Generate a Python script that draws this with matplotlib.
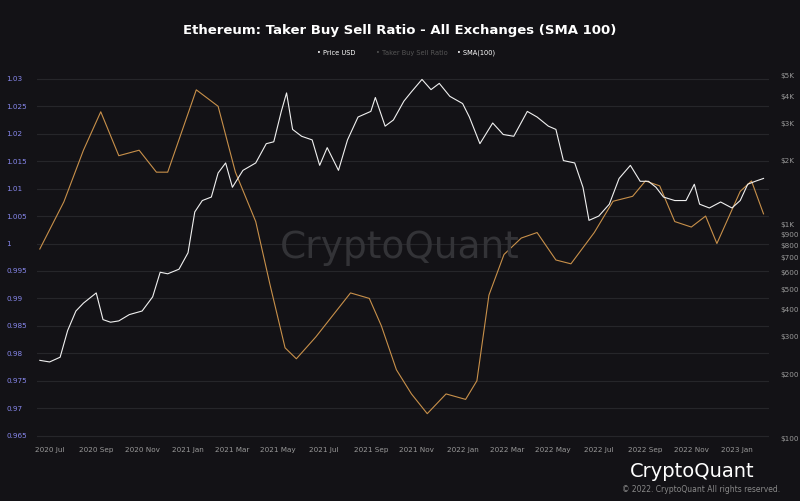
import matplotlib
matplotlib.use("Agg")
import matplotlib.pyplot as plt
import matplotlib.dates as mdates
import pandas as pd

price_dates = ["2020-06-18","2020-07-01","2020-07-15","2020-07-25","2020-08-05","2020-08-15","2020-09-01","2020-09-10","2020-09-20","2020-10-01","2020-10-15","2020-11-01","2020-11-15","2020-11-25","2020-12-05","2020-12-20","2021-01-01","2021-01-10","2021-01-20","2021-02-01","2021-02-10","2021-02-20","2021-03-01","2021-03-15","2021-04-01","2021-04-15","2021-04-25","2021-05-05","2021-05-12","2021-05-20","2021-06-01","2021-06-15","2021-06-25","2021-07-05","2021-07-20","2021-08-01","2021-08-15","2021-09-01","2021-09-07","2021-09-20","2021-10-01","2021-10-15","2021-10-25","2021-11-08","2021-11-20","2021-12-01","2021-12-15","2022-01-01","2022-01-10","2022-01-24","2022-02-10","2022-02-24","2022-03-10","2022-03-28","2022-04-10","2022-04-25","2022-05-05","2022-05-15","2022-05-30","2022-06-10","2022-06-18","2022-07-01","2022-07-15","2022-07-28","2022-08-12","2022-08-25","2022-09-05","2022-09-15","2022-09-25","2022-10-10","2022-10-25","2022-11-05","2022-11-12","2022-11-25","2022-12-10","2022-12-25","2023-01-05","2023-01-15","2023-01-25","2023-02-05"]
price_usd = [232,228,240,320,395,430,480,360,350,355,380,395,460,600,590,620,740,1150,1300,1350,1750,1950,1500,1800,1950,2400,2450,3400,4150,2800,2600,2500,1900,2300,1800,2500,3200,3400,3950,2900,3100,3800,4200,4800,4300,4600,4000,3700,3200,2400,3000,2650,2600,3400,3200,2900,2800,2000,1950,1500,1050,1100,1250,1650,1900,1600,1600,1500,1350,1300,1300,1550,1250,1200,1280,1200,1300,1550,1600,1650]

sma_dates = ["2020-06-18","2020-07-20","2020-08-15","2020-09-07","2020-10-01","2020-10-28","2020-11-20","2020-12-05","2021-01-12","2021-02-10","2021-03-05","2021-04-01","2021-04-20","2021-05-10","2021-05-25","2021-06-20","2021-08-05","2021-08-30","2021-09-15","2021-10-05","2021-10-25","2021-11-15","2021-12-10","2022-01-05","2022-01-20","2022-02-05","2022-02-25","2022-03-20","2022-04-10","2022-05-05","2022-05-25","2022-06-25","2022-07-20","2022-08-15","2022-09-01","2022-09-20","2022-10-10","2022-11-01","2022-11-20","2022-12-05","2023-01-05","2023-01-20","2023-02-05"]
sma_ratio = [0.999,1.0076,1.017,1.024,1.016,1.017,1.013,1.013,1.028,1.025,1.013,1.004,0.9925,0.981,0.979,0.983,0.991,0.990,0.985,0.977,0.9726,0.969,0.9726,0.9716,0.975,0.9906,0.998,1.001,1.002,0.997,0.9963,1.002,1.0077,1.0086,1.0114,1.0105,1.004,1.003,1.005,1.000,1.0095,1.0114,1.0054]

left_ticks = [0.965,0.97,0.975,0.98,0.985,0.99,0.995,1,1.005,1.01,1.015,1.02,1.025,1.03]
right_ticks = [100,200,300,400,500,600,700,800,900,1000,2000,3000,4000,5000]
right_labels = ["$100","$200","$300","$400","$500","$600","$700","$800","$900","$1K","$2K","$3K","$4K","$5K"]
x_ticks = ["2020-07-01","2020-09-01","2020-11-01","2021-01-01","2021-03-01","2021-05-01","2021-07-01","2021-09-01","2021-11-01","2022-01-01","2022-03-01","2022-05-01","2022-07-01","2022-09-01","2022-11-01","2023-01-01"]

bg = "#131216"
fig = plt.figure(figsize=(8, 5.01), dpi=100, facecolor=bg)
ax = fig.add_axes([0.046, 0.125, 0.915, 0.745])
ax.set_facecolor(bg)
ax2 = ax.twinx()

sd = pd.to_datetime(sma_dates)
pdt = pd.to_datetime(price_dates)
ax.plot(sd, sma_ratio, color="#c8904a", lw=0.8)
ax2.plot(pdt, price_usd, color="#f0f0f0", lw=0.8)

ax.set_ylim(0.9645, 1.0325)
ax.set_yticks(left_ticks)
ax.set_yticklabels([("%g" % t) for t in left_ticks])
ax2.set_yscale("log")
ax2.set_ylim(100, 5600)
ax2.set_yticks(right_ticks)
ax2.set_yticklabels(right_labels)
ax2.minorticks_off()
ax.set_xlim(pd.Timestamp("2020-06-14"), pd.Timestamp("2023-02-12"))
ax.set_xticks(pd.to_datetime(x_ticks))
ax.xaxis.set_major_formatter(mdates.DateFormatter("%Y %b"))
ax.grid(axis="y", color="#26262a", lw=0.8)
for a in (ax, ax2):
    for s in a.spines.values():
        s.set_visible(False)
    a.tick_params(length=0, labelsize=5.2)
ax.tick_params(axis="y", colors="#8888ee", pad=-2)
for l in ax.get_yticklabels():
    l.set_horizontalalignment("left"); l.set_x(-0.045)
ax.tick_params(axis="x", colors="#999999", pad=6)
ax2.tick_params(axis="y", colors="#999999", pad=8)

fig.text(0.5, 0.94, "Ethereum: Taker Buy Sell Ratio - All Exchanges (SMA 100)", ha="center", va="center", color="white", fontsize=9.5, fontweight="bold")
fig.text(0.42, 0.895, "• Price USD", ha="center", va="center", color="white", fontsize=4.8)
fig.text(0.515, 0.895, "• Taker Buy Sell Ratio", ha="center", va="center", color="#555555", fontsize=4.8)
fig.text(0.595, 0.895, "• SMA(100)", ha="center", va="center", color="white", fontsize=4.8)
fig.text(0.5, 0.505, "CryptoQuant", ha="center", va="center", color="#333337", fontsize=27)
fig.text(0.865, 0.058, "CryptoQuant", ha="center", va="center", color="white", fontsize=14)
fig.text(0.975, 0.022, "© 2022. CryptoQuant All rights reserved.", ha="right", va="center", color="#888888", fontsize=5.5)
fig.savefig("out.png", facecolor=bg)
